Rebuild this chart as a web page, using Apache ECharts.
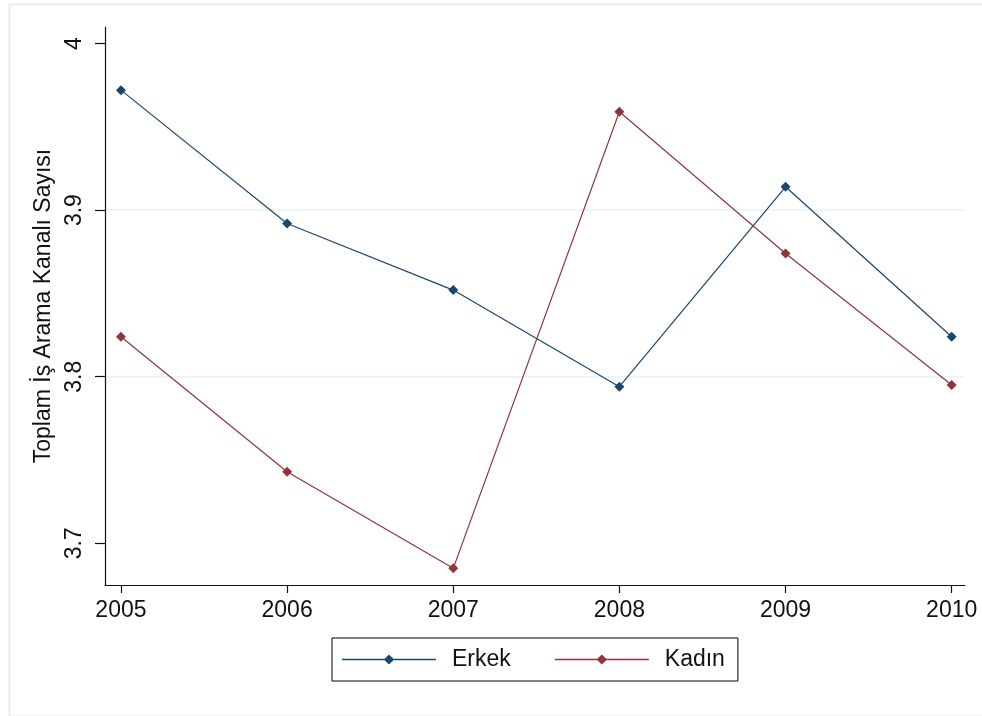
<!DOCTYPE html>
<html>
<head>
<meta charset="utf-8">
<script src="https://cdn.jsdelivr.net/npm/echarts@6/dist/echarts.min.js"></script>
<style>
html,body{margin:0;padding:0;background:#fff;}
#c{width:982px;height:716px;}
</style>
</head>
<body>
<div id="c"></div>
<script>
var years = [2005, 2006, 2007, 2008, 2009, 2010];
var erkek = [3.972, 3.892, 3.852, 3.794, 3.914, 3.824];
var kadin = [3.824, 3.743, 3.685, 3.959, 3.874, 3.795];
var yTicks = [3.7, 3.8, 3.9, 4];
var seriesNames = ['Erkek', 'Kadın'];
var yTitle = 'Toplam İş Arama Kanalı Sayısı';

var FONT = '"Liberation Sans", Arial, sans-serif';
var legendIcon = 'path://M0,4.3 L42.5,4.3 L47,0 L51.5,4.3 L94,4.3 L94,5.7 L51.5,5.7 L47,10 L42.5,5.7 L0,5.7 Z';

function pairs(vals) { return years.map(function (y, i) { return [y, vals[i]]; }); }

var chart = echarts.init(document.getElementById('c'), null, {renderer: 'canvas'});
chart.setOption({
  animation: false,
  backgroundColor: '#ffffff',
  textStyle: {fontFamily: FONT},
  graphic: [{
    type: 'rect', left: 7, top: 2, silent: true, z: -10,
    shape: {width: 990, height: 712},
    style: {fill: 'none', stroke: '#E6EEF0', lineWidth: 2}
  }],
  grid: {left: 105, right: 17, top: 27, bottom: 131, containLabel: false},
  legend: {
    left: 332, top: 638,
    orient: 'horizontal',
    itemWidth: 94, itemHeight: 10, itemGap: 44,
    padding: [10, 13, 10, 10],
    borderColor: '#000', borderWidth: 1,
    textStyle: {fontFamily: FONT, fontSize: 23, color: '#111', padding: [0, 0, 0, 11]},
    data: [
      {name: seriesNames[0], icon: legendIcon, itemStyle: {color: '#1a476f'}},
      {name: seriesNames[1], icon: legendIcon, itemStyle: {color: '#90353b'}}
    ]
  },
  xAxis: {
    type: 'value',
    min: 2004.904, max: 2010.08,
    axisLine: {show: true, lineStyle: {color: '#111', width: 1.2}},
    axisTick: {show: true, length: 8, customValues: years, lineStyle: {color: '#111', width: 1.2}},
    axisLabel: {customValues: years, fontSize: 23, color: '#111', fontFamily: FONT, margin: 14,
      formatter: function (v) { return String(v); }},
    splitLine: {show: false}
  },
  yAxis: {
    type: 'value',
    min: 3.675, max: 4.0099,
    name: yTitle,
    nameLocation: 'middle',
    nameRotate: 90,
    nameGap: 47,
    nameTextStyle: {fontSize: 23, color: '#111', fontFamily: FONT},
    axisLine: {show: true, lineStyle: {color: '#111', width: 1.2}},
    axisTick: {show: true, length: 10, customValues: yTicks, lineStyle: {color: '#111', width: 1.2}},
    axisLabel: {customValues: yTicks, rotate: 90, fontSize: 23, color: '#111', fontFamily: FONT, margin: 19,
      formatter: function (v) { return String(+v.toFixed(1)); }},
    splitLine: {show: true, showMinLine: false, showMaxLine: false, lineStyle: {color: '#E6F0F2', width: 1.5}}
  },
  series: [
    {name: seriesNames[0], type: 'line', data: pairs(erkek), symbol: 'diamond', symbolSize: 10,
      lineStyle: {color: '#1a476f', width: 1.2}, itemStyle: {color: '#1a476f'}},
    {name: seriesNames[1], type: 'line', data: pairs(kadin), symbol: 'diamond', symbolSize: 10,
      lineStyle: {color: '#90353b', width: 1.2}, itemStyle: {color: '#90353b'}}
  ]
});
</script>
</body>
</html>
